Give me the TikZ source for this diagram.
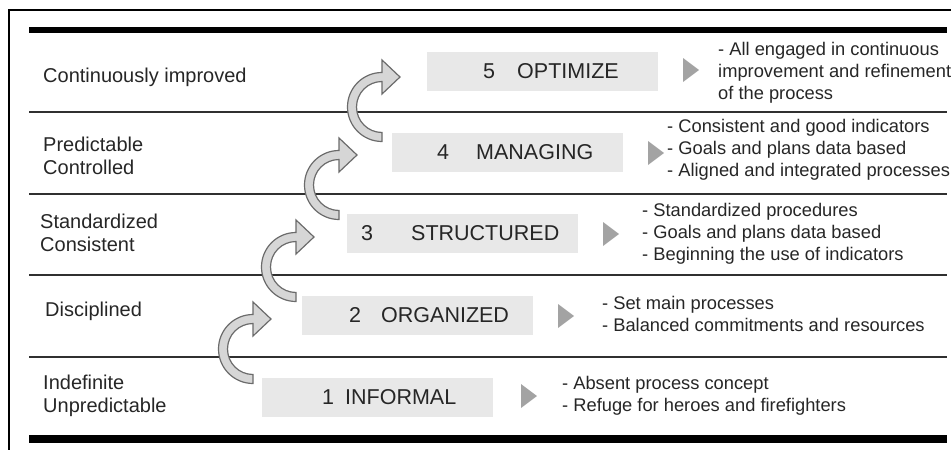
\documentclass[tikz,border=0pt]{standalone}
\usepackage{fontspec}
\setmainfont{Liberation Sans}
\definecolor{txt}{HTML}{262626}
\definecolor{boxgray}{HTML}{E8E8E8}
\definecolor{trigray}{HTML}{A3A3A3}
\definecolor{arrowfill}{HTML}{D6D6D6}
\definecolor{arrowline}{HTML}{6B6B6B}
\definecolor{rulecol}{HTML}{303030}
\begin{document}
\begin{tikzpicture}[x=1pt,y=-1pt,
  lbl/.style={anchor=west,align=left,text=txt,font=\fontsize{20}{23.5}\selectfont,inner sep=0pt},
  desc/.style={anchor=west,align=left,text=txt,font=\fontsize{18.3}{22}\selectfont,inner sep=0pt},
  lvlbox/.style={fill=boxgray,minimum width=231pt,minimum height=39pt,inner sep=0pt,anchor=north west},
  lvltxt/.style={text=txt,font=\fontsize{21.5}{24}\selectfont,inner sep=0pt},
  tri/.style={fill=trigray},
  band/.style={fill=arrowfill,draw=arrowline,line width=1.2pt,line join=miter},
  rulest/.style={draw=rulecol,line width=1.5pt}]
\useasboundingbox (0,0) rectangle (951,450);
% frame
\draw[line width=1.6pt] (9,450) -- (9,10) -- (951,10);
% thick bars
\fill[black] (29,27) rectangle (947,33);
\fill[black] (29,435) rectangle (947,443);
% separators
\draw[rulest] (29,112) -- (947,112);
\draw[rulest] (29,194) -- (947,194);
\draw[rulest] (29,275) -- (947,275);
\draw[rulest] (29,357) -- (947,357);
% left labels
\node[lbl] (l5) at (43,77) {Continuously improved};
\node[lbl] (l4) at (43,156) {Predictable\\Controlled};
\node[lbl] (l3) at (40,233) {Standardized\\Consistent};
\node[lbl] (l2) at (45,311) {Disciplined};
\node[lbl] (l1) at (43,396) {Indefinite\\Unpredictable};
% boxes
\node[lvlbox] (b5) at (427,52) {};
\node[lvlbox] (b4) at (392,133) {};
\node[lvlbox] (b3) at (347,214) {};
\node[lvlbox] (b2) at (302,296) {};
\node[lvlbox] (b1) at (262,378) {};
% box texts
\node[lvltxt] (n5) at (489,71) {5};
\node[lvltxt,anchor=west] (w5) at (517,71) {OPTIMIZE};
\node[lvltxt] (n4) at (443,152) {4};
\node[lvltxt,anchor=west] (w4) at (476,152) {MANAGING};
\node[lvltxt] (n3) at (367,233) {3};
\node[lvltxt,anchor=west] (w3) at (411,233) {STRUCTURED};
\node[lvltxt] (n2) at (355,315) {2};
\node[lvltxt,anchor=west] (w2) at (381,315) {ORGANIZED};
\node[lvltxt] (n1) at (328,397) {1};
\node[lvltxt,anchor=west] (w1) at (345,397) {INFORMAL};
% triangles
\fill[tri] (683,58) -- (699,70) -- (683,82) -- cycle;
\fill[tri] (648,141) -- (664,153) -- (648,165) -- cycle;
\fill[tri] (603,222) -- (619,234) -- (603,246) -- cycle;
\fill[tri] (558,304) -- (574,316) -- (558,328) -- cycle;
\fill[tri] (521,384) -- (537,396) -- (521,408) -- cycle;
% descriptions
\node[desc] (r5) at (718,73) {- All engaged in continuous\\improvement and refinement\\of the process};
\node[desc] (r4) at (667,150) {- Consistent and good indicators\\- Goals and plans data based\\- Aligned and integrated processes};
\node[desc] (r3) at (642,234) {- Standardized procedures\\- Goals and plans data based\\- Beginning the use of indicators};
\node[desc] (r2) at (602,314) {- Set main processes\\- Balanced commitments and resources};
\node[desc] (r1) at (562,396) {- Absent process concept\\- Refuge for heroes and firefighters};
% curved arrows
\coordinate (c5) at (382,107);
\coordinate (c4) at (339,185);
\coordinate (c3) at (296,267);
\coordinate (c2) at (253,349);
\foreach \c in {c2,c3,c4,c5}{
  \draw[band] (\c) ++(0,25.5) -- ++(0,9) arc[start angle=90,end angle=270,radius=34.5]
    -- ++(0,-12.5) -- ++(18,17) -- ++(-18,17) -- ++(0,-12.5)
    arc[start angle=270,end angle=90,radius=25.5] -- cycle;
}
\end{tikzpicture}
\end{document}
